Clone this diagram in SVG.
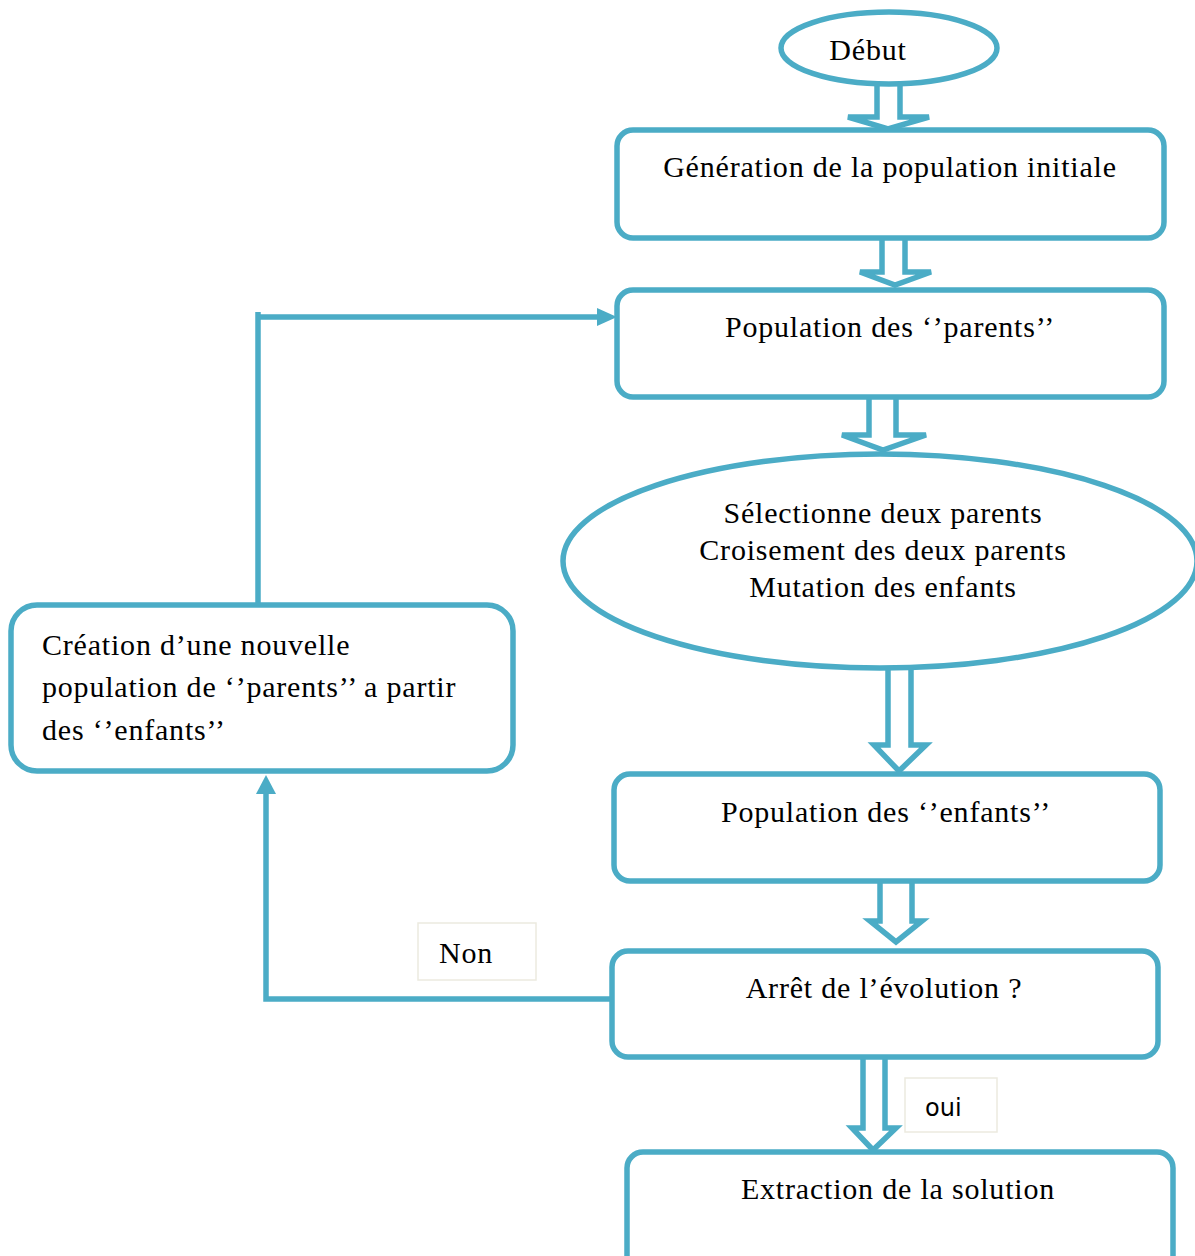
<svg xmlns="http://www.w3.org/2000/svg" width="1195" height="1256" viewBox="0 0 1195 1256">
  <style>
    .shape { fill: #ffffff; stroke: #4BACC6; stroke-width: 5.5; }
    .block { fill: #ffffff; stroke: #4BACC6; stroke-width: 5.5; stroke-linejoin: miter; }
    .line { fill: none; stroke: #4BACC6; stroke-width: 5.5; }
    .label { fill: #ffffff; stroke: #ECEADF; stroke-width: 1.5; }
    .t { font-family: "Liberation Serif", "Times New Roman", serif; font-size: 30px; letter-spacing: 0.8px; fill: #000000; }
    .c { text-anchor: middle; }
    .s { font-family: "DejaVu Sans", "Liberation Sans", sans-serif; font-size: 24px; fill: #000000; }
  </style>

  <!-- Connectors -->
  <g id="connectors">
    <!-- hollow block arrows between stacked steps -->
    <path class="block" d="M877,85 L877,117 L848,117 L888,129 L929,117 L900,117 L900,85"/>
    <path class="block" d="M882,238 L882,272 L860,272 L895,285 L931,272 L905,272 L905,238"/>
    <path class="block" d="M869,397 L869,435 L842,435 L883,450 L926,435 L896,435 L896,397"/>
    <path class="block" d="M888,668 L888,745 L874,745 L899,771 L926,745 L911,745 L911,668"/>
    <path class="block" d="M880,881 L880,921 L870,921 L896,942 L922,921 L912,921 L912,881"/>
    <path class="block" d="M863,1057 L863,1128 L852,1128 L873,1150 L896,1128 L885,1128 L885,1057"/>
    <!-- "Non" branch: back to the new-population step -->
    <path class="line" d="M612,999 L266,999 L266,794" />
    <path d="M256,794 L266,775 L276,794 Z" fill="#4BACC6"/>
    <!-- loop back to the parents population -->
    <path class="line" d="M258,605 L258,312 M255.5,317 L598,317" />
    <path d="M597,308 L617,317 L597,326 Z" fill="#4BACC6"/>
  </g>

  <!-- Nodes -->
  <g id="debut">
    <ellipse class="shape" cx="889" cy="48" rx="108" ry="36"/>
    <text class="t c" x="868" y="60">Début</text>
  </g>

  <g id="generation">
    <rect class="shape" x="617" y="130" width="547" height="108" rx="16"/>
    <text class="t c" x="890" y="177">Génération de la population initiale</text>
  </g>

  <g id="parents">
    <rect class="shape" x="617" y="290" width="547" height="107" rx="16"/>
    <text class="t c" x="890" y="337">Population des ‘’parents’’</text>
  </g>

  <g id="operateurs">
    <ellipse class="shape" cx="880" cy="561" rx="317" ry="107"/>
    <text class="t c" x="883" y="523">Sélectionne deux parents</text>
    <text class="t c" x="883" y="560">Croisement des deux parents</text>
    <text class="t c" x="883" y="597">Mutation des enfants</text>
  </g>

  <g id="enfants">
    <rect class="shape" x="614" y="774" width="546" height="107" rx="16"/>
    <text class="t c" x="886" y="822">Population des ‘’enfants’’</text>
  </g>

  <g id="arret">
    <rect class="shape" x="612" y="951" width="546" height="106" rx="16"/>
    <text class="t c" x="884" y="998">Arrêt de l’évolution ?</text>
  </g>

  <g id="extraction">
    <rect class="shape" x="627" y="1152" width="546" height="120" rx="16"/>
    <text class="t c" x="898" y="1199">Extraction de la solution</text>
  </g>

  <g id="nouvelle-population">
    <rect class="shape" x="11" y="605" width="502" height="166" rx="26"/>
    <text class="t" x="42" y="655">Création d’une nouvelle</text>
    <text class="t" x="42" y="697">population de ‘’parents’’ a partir</text>
    <text class="t" x="42" y="740">des ‘’enfants’’</text>
  </g>

  <g id="label-non">
    <rect class="label" x="418" y="923" width="118" height="57"/>
    <text class="t" x="439" y="963">Non</text>
  </g>

  <g id="label-oui">
    <rect class="label" x="905" y="1078" width="92" height="54"/>
    <text class="s" x="925" y="1116">oui</text>
  </g>
</svg>
